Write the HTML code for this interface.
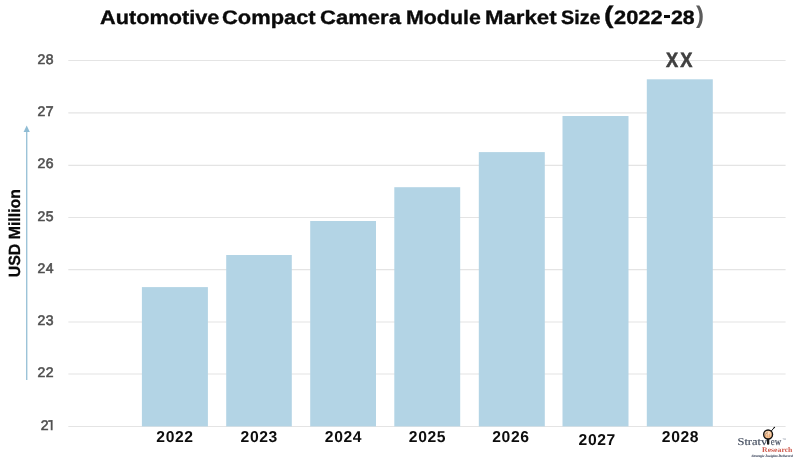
<!DOCTYPE html>
<html>
<head>
<meta charset="utf-8">
<title>Automotive Compact Camera Module Market Size (2022-28)</title>
<style>
  html, body { margin: 0; padding: 0; background: #ffffff; }
  body { width: 798px; height: 458px; overflow: hidden; position: relative;
         font-family: "Liberation Sans", sans-serif; }
  #chart { text-rendering: geometricPrecision; will-change: transform; position: absolute; left: 0; top: 0; width: 798px; height: 458px; background: #fff; overflow: hidden; }
  .ytick { position: absolute; left: 26.8px; width: 27px; text-align: right; font-size: 14px; font-weight: normal;
           color: #505050; line-height: 14px; letter-spacing: 0.35px; -webkit-text-stroke: 0.6px #505050; }
  .xlab { position: absolute; width: 66px; text-align: center; font-size: 15.7px; font-weight: bold; color: #0d0d0d;
          line-height: 16px; letter-spacing: 0.6px; text-indent: 0.6px; }
  #title { position: absolute; left: 0; top: 4.6px; width: 798px; height: 26px; font-size: 19.5px; font-weight: bold;
           color: #0a0a0a; line-height: 26px; }
  #title span { position: absolute; top: 0; white-space: nowrap; transform-origin: 0 0; -webkit-text-stroke: 0.35px #0a0a0a; }
  #title .rp { font-weight: bold; color: #5c5c5c; -webkit-text-stroke: 0; }
  #ylabel { position: absolute; left: 0; top: 0; white-space: nowrap; font-size: 16.2px; font-weight: bold; color: #0a0a0a;
            transform-origin: 0 0; transform: translate(6.0px, 277.3px) rotate(-90deg) scaleX(0.982); line-height: 18px;
            -webkit-text-stroke: 0.25px #0a0a0a; }
  #xx { position: absolute; left: 665.7px; top: 50px; font-size: 20.6px; font-weight: bold; color: #404040; letter-spacing: 2.4px;
        line-height: 22px; white-space: nowrap; transform-origin: 0 0; transform: scaleX(0.885); -webkit-text-stroke: 0.6px #404040; }
</style>
</head>
<body>
<div id="chart">
  <div id="title">
    <span style="left:99.54px; transform:scaleX(1.1132)">Automotive</span>
    <span style="left:222.16px; transform:scaleX(1.1224)">Compact</span>
    <span style="left:320.25px; transform:scaleX(1.1310)">Camera</span>
    <span style="left:406.43px; transform:scaleX(1.0958)">Module</span>
    <span style="left:484.58px; transform:scaleX(1.1382)">Market</span>
    <span style="left:560.99px; transform:scaleX(1.0119)">Size</span>
    <span style="left:604.12px; top:-2.1px; font-size:24px; transform:scaleX(1.1852)">(</span>
    <span style="left:613.76px; transform:scaleX(1.1210)">2022</span>
    <span style="left:664px; top:10.4px; width:5.5px; height:2.7px; background:#0a0a0a"></span>
    <span style="left:670.88px; transform:scaleX(1.0914)">28</span>
    <span class="rp" style="left:695.9px; top:-2.1px; font-size:24px; transform:scaleX(0.9926)">)</span>
  </div>


  <svg width="798" height="458" viewBox="0 0 798 458" style="position:absolute; left:0; top:0">
    <line x1="68.3" y1="60.5" x2="785.6" y2="60.5" stroke="#e4e4e4" stroke-width="1.1"/>
    <line x1="68.3" y1="112.9" x2="785.6" y2="112.9" stroke="#e4e4e4" stroke-width="1.1"/>
    <line x1="68.3" y1="165.4" x2="785.6" y2="165.4" stroke="#e4e4e4" stroke-width="1.1"/>
    <line x1="68.3" y1="217.5" x2="785.6" y2="217.5" stroke="#e4e4e4" stroke-width="1.1"/>
    <line x1="68.3" y1="269.6" x2="785.6" y2="269.6" stroke="#e4e4e4" stroke-width="1.1"/>
    <line x1="68.3" y1="322.0" x2="785.6" y2="322.0" stroke="#e4e4e4" stroke-width="1.1"/>
    <line x1="68.3" y1="374.0" x2="785.6" y2="374.0" stroke="#e4e4e4" stroke-width="1.1"/>
    <line x1="68.3" y1="426.5" x2="785.6" y2="426.5" stroke="#e4e4e4" stroke-width="1.1"/>
  </svg>

  <div class="ytick" style="top:51.5px">28</div>
  <div class="ytick" style="top:103.8px">27</div>
  <div class="ytick" style="top:156.0px">26</div>
  <div class="ytick" style="top:208.6px">25</div>
  <div class="ytick" style="top:260.5px">24</div>
  <div class="ytick" style="top:312.8px">23</div>
  <div class="ytick" style="top:365.1px">22</div>
  <div class="ytick" style="top:417.7px; left:21.8px">2</div>
  <svg width="8" height="14" viewBox="0 0 8 14" style="position:absolute; left:45.7px; top:418px">
    <path d="M2.2 4.1 L2.2 2.3 L6.6 2.0 L6.6 12.2 L4.75 12.2 L4.75 3.75 Z" fill="#505050"/>
  </svg>

  <svg width="798" height="458" viewBox="0 0 798 458" style="position:absolute; left:0; top:0">
    <rect x="141.9" y="287.1" width="66.0" height="139.3" fill="#b3d4e5"/>
    <rect x="226.2" y="255.0" width="65.6" height="171.4" fill="#b3d4e5"/>
    <rect x="310.2" y="221.0" width="65.8" height="205.4" fill="#b3d4e5"/>
    <rect x="394.3" y="187.2" width="65.9" height="239.2" fill="#b3d4e5"/>
    <rect x="478.8" y="152.1" width="66.0" height="274.3" fill="#b3d4e5"/>
    <rect x="562.5" y="116.0" width="66.0" height="310.4" fill="#b3d4e5"/>
    <rect x="646.8" y="79.3" width="66.0" height="347.1" fill="#b3d4e5"/>
  </svg>

  <div class="xlab" style="left:141.69px; top:430.4px">2022</div>
  <div class="xlab" style="left:225.96px; top:430.4px">2023</div>
  <div class="xlab" style="left:310.20px; top:430.4px">2024</div>
  <div class="xlab" style="left:394.18px; top:430.4px">2025</div>
  <div class="xlab" style="left:477.64px; top:430.4px">2026</div>
  <div class="xlab" style="left:563.97px; top:433.4px">2027</div>
  <div class="xlab" style="left:647.18px; top:430.4px">2028</div>

  <div id="xx">XX</div>

  <div id="ylabel">USD Million</div>

  <svg id="arrow" width="20" height="270" style="position:absolute; left:17px; top:120px" viewBox="0 0 20 270">
    <line x1="9.7" y1="10" x2="9.7" y2="260" stroke="#9cc3d8" stroke-width="1.4"/>
    <path d="M9.7 5.5 L12.8 12 L6.6 12 Z" fill="#8fbcd4"/>
  </svg>

  <svg id="logo" width="78" height="43" viewBox="720 415 78 43" style="position:absolute; left:720px; top:415px; overflow:visible">
    <defs>
      <radialGradient id="lens" cx="0.45" cy="0.45" r="0.6">
        <stop offset="0" stop-color="#fdeedd"/>
        <stop offset="0.6" stop-color="#f7cba2"/>
        <stop offset="1" stop-color="#ee9e62"/>
      </radialGradient>
    </defs>
    <text x="737.5" y="444.7" font-family="Liberation Serif, serif" font-size="10.6" fill="#3b4557" stroke="#3b4557" stroke-width="0.12" textLength="29.7" lengthAdjust="spacingAndGlyphs">Stratv</text>
    <text x="770.7" y="444.7" font-family="Liberation Serif, serif" font-size="10.6" fill="#3b4557" stroke="#3b4557" stroke-width="0.12" textLength="10.4" lengthAdjust="spacingAndGlyphs">ew</text>
    <!-- magnifier "i" -->
    <path d="M766.95 439 L769.3 439 L769.3 444 Q769.3 444.8 768.1 444.8 Q766.95 444.8 766.95 444 Z" fill="#1c1c1c"/>
    <line x1="771.4" y1="430.9" x2="774.3" y2="427.5" stroke="#1a1a1a" stroke-width="1.0" stroke-linecap="round"/>
    <circle cx="774.4" cy="427.4" r="0.75" fill="#1a1a1a"/>
    <circle cx="768.1" cy="434.5" r="4.45" fill="url(#lens)" stroke="#141414" stroke-width="1.4"/>
    <path d="M767.2 432.6 L767.2 437.2 M769.2 433.8 L769.2 437.2 M765.6 434.8 L765.6 436.8" stroke="#d9813f" stroke-width="0.7" fill="none"/>
    <path d="M764.9 434.6 L767.6 432.2" stroke="#3a2a20" stroke-width="0.45" fill="none"/>
    <text x="782.6" y="439.6" font-family="Liberation Sans, sans-serif" font-size="2.4" fill="#8a93a3">TM</text>
    <text x="762.1" y="451.9" font-family="Liberation Serif, serif" font-weight="bold" font-size="7.1" fill="#cf5a4d" textLength="30.3" lengthAdjust="spacingAndGlyphs">Research</text>
    <text x="751.4" y="456.5" font-family="Liberation Serif, serif" font-style="italic" font-weight="bold" font-size="3.3" fill="#434d62" stroke="#434d62" stroke-width="0.08" textLength="41.4" lengthAdjust="spacingAndGlyphs">Strategic Insights Delivered</text>
  </svg>
</div>
</body>
</html>
